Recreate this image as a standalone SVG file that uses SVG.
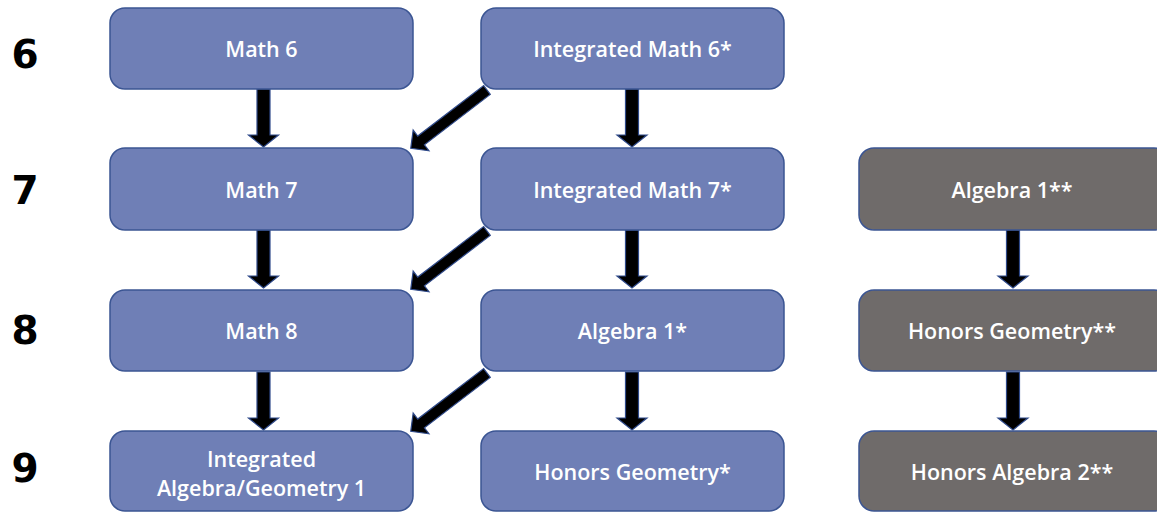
<svg xmlns="http://www.w3.org/2000/svg" width="1157" height="512" viewBox="0 0 1157 512">
<style>
.box{fill:#6f7fb6;stroke:#3b5593;stroke-width:1.5}
.gbox{fill:#6f6b6a;stroke:#3b5593;stroke-width:1.5}
.t{font-family:"Open Sans","Liberation Sans",sans-serif;font-size:21.5px;font-weight:600;fill:#ffffff;text-anchor:middle;dominant-baseline:central}
.g{font-family:"DejaVu Sans","Liberation Sans",sans-serif;font-weight:bold;font-size:39px;fill:#000;text-anchor:middle;dominant-baseline:central}
.arr{fill:#000;stroke:#2f4a8a;stroke-width:1.2}
</style>
<defs>
<path id="va" d="M0,-6.5 H46 V-15 L58,0 L46,15 V6.5 H0 Z"/>
<path id="da" d="M0,-5.5 H83 V-13 L96,0 L83,13 V5.5 H0 Z"/>
</defs>
<rect width="1157" height="512" fill="#fff"/>
<g id="grades">
<text class="g" x="25" y="54">6</text>
<text class="g" x="25" y="190">7</text>
<text class="g" x="25" y="330">8</text>
<text class="g" x="25" y="468">9</text>
</g>
<g id="connectors">
<use href="#va" class="arr" transform="translate(263.5,89) rotate(90)"/>
<use href="#va" class="arr" transform="translate(263.5,230) rotate(90)"/>
<use href="#va" class="arr" transform="translate(263.5,372) rotate(90)"/>
<use href="#va" class="arr" transform="translate(632,89) rotate(90)"/>
<use href="#va" class="arr" transform="translate(632,230) rotate(90)"/>
<use href="#va" class="arr" transform="translate(632,372) rotate(90)"/>
<use href="#va" class="arr" transform="translate(1013,230) rotate(90)"/>
<use href="#va" class="arr" transform="translate(1013,372) rotate(90)"/>
<use href="#da" class="arr" transform="translate(487,90) rotate(142.6)"/>
<use href="#da" class="arr" transform="translate(487,231) rotate(142.6)"/>
<use href="#da" class="arr" transform="translate(487,373) rotate(142.6)"/>
</g>
<g id="math6"><rect class="box" x="110" y="8" width="303" height="81" rx="15"/><text class="t" x="261.5" y="48.5">Math 6</text></g>
<g id="intmath6"><rect class="box" x="481" y="8" width="303" height="81" rx="15"/><text class="t" x="632.5" y="48.5">Integrated Math 6*</text></g>
<g id="math7"><rect class="box" x="110" y="148" width="303" height="82" rx="15"/><text class="t" x="261.5" y="189">Math 7</text></g>
<g id="intmath7"><rect class="box" x="481" y="148" width="303" height="82" rx="15"/><text class="t" x="632.5" y="189">Integrated Math 7*</text></g>
<g id="alg1hon"><rect class="gbox" x="859" y="148" width="310" height="82" rx="15"/><text class="t" x="1012" y="189">Algebra 1**</text></g>
<g id="math8"><rect class="box" x="110" y="290" width="303" height="81" rx="15"/><text class="t" x="261.5" y="330.5">Math 8</text></g>
<g id="alg1"><rect class="box" x="481" y="290" width="303" height="81" rx="15"/><text class="t" x="632.5" y="330.5">Algebra 1*</text></g>
<g id="hongeo2"><rect class="gbox" x="859" y="290" width="310" height="81" rx="15"/><text class="t" x="1012" y="330.5">Honors Geometry**</text></g>
<g id="intalggeo"><rect class="box" x="110" y="431" width="303" height="80" rx="15"/><text class="t" x="261.5" y="458">Integrated</text><text class="t" x="261.5" y="487">Algebra/Geometry 1</text></g>
<g id="hongeo"><rect class="box" x="481" y="431" width="303" height="80" rx="15"/><text class="t" x="632.5" y="471">Honors Geometry*</text></g>
<g id="honalg2"><rect class="gbox" x="859" y="431" width="310" height="80" rx="15"/><text class="t" x="1012" y="471">Honors Algebra 2**</text></g>
</svg>
